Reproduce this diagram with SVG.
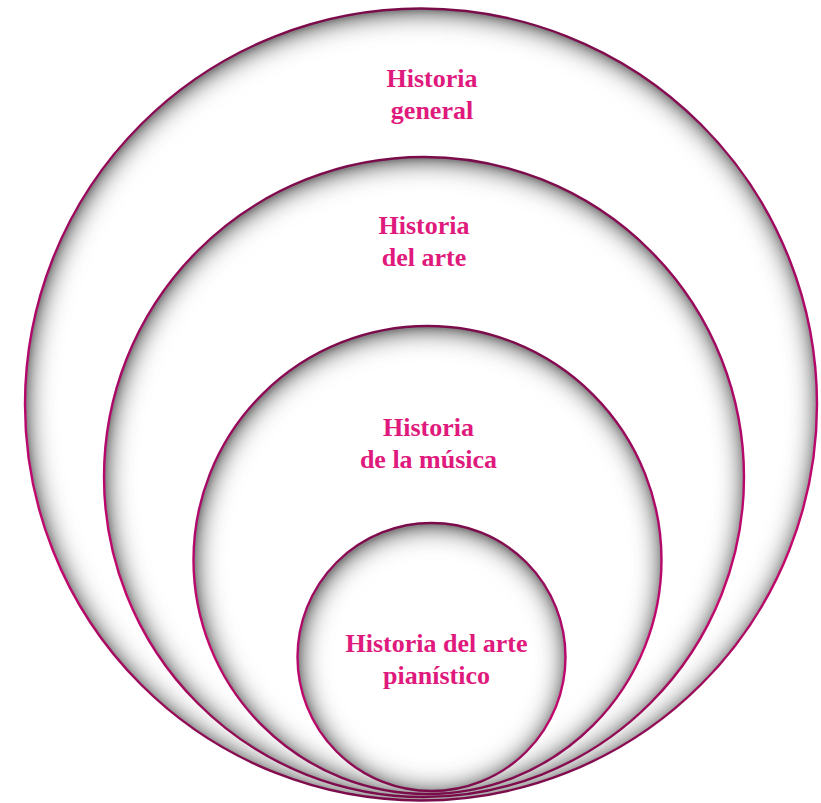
<svg xmlns="http://www.w3.org/2000/svg" width="821" height="803" viewBox="0 0 821 803">
  <defs>
    <linearGradient id="stroke" x1="0" y1="0" x2="0" y2="1">
      <stop offset="0" stop-color="#7a0c4a"/>
      <stop offset="0.4" stop-color="#b0086a"/>
      <stop offset="0.7" stop-color="#c4086e"/>
      <stop offset="1" stop-color="#7a0c4a"/>
    </linearGradient>
    <filter id="inner" x="-10%" y="-10%" width="120%" height="120%">
      <feComponentTransfer in="SourceAlpha" result="inv">
        <feFuncA type="table" tableValues="1 0"/>
      </feComponentTransfer>
      <feGaussianBlur in="inv" stdDeviation="14" result="blur"/>
      <feOffset in="blur" dx="1" dy="2" result="off"/>
      <feComponentTransfer in="off" result="boost">
        <feFuncA type="linear" slope="2" intercept="0"/>
      </feComponentTransfer>
      <feFlood flood-color="#404040" flood-opacity="0.8"/>
      <feComposite operator="in" in2="boost"/>
      <feComposite operator="in" in2="SourceAlpha" result="shadow"/>
      <feMerge>
        <feMergeNode in="SourceGraphic"/>
        <feMergeNode in="shadow"/>
      </feMerge>
    </filter>
  </defs>
  <style>
    .disc { fill: #ffffff; filter: url(#inner); }
    .ring { fill: none; stroke: url(#stroke); stroke-width: 2.4; }
    .lbl { font-family: "Liberation Serif", "Times New Roman", serif; font-weight: bold; font-size: 26px; fill: #e0197d; text-anchor: middle; }
  </style>
  <rect width="821" height="803" fill="#ffffff"/>
  <g id="historia-general">
    <circle class="disc" cx="421" cy="404.5" r="396"/>
    <circle class="ring" cx="421" cy="404.5" r="396"/>
    <text class="lbl" x="432" y="87">Historia</text>
    <text class="lbl" x="432" y="119">general</text>
  </g>
  <g id="historia-del-arte">
    <circle class="disc" cx="424" cy="477" r="320"/>
    <circle class="ring" cx="424" cy="477" r="320"/>
    <text class="lbl" x="424" y="234">Historia</text>
    <text class="lbl" x="424" y="266">del arte</text>
  </g>
  <g id="historia-de-la-musica">
    <circle class="disc" cx="427.5" cy="560" r="234"/>
    <circle class="ring" cx="427.5" cy="560" r="234"/>
    <text class="lbl" x="428.5" y="436">Historia</text>
    <text class="lbl" x="428.5" y="468">de la música</text>
  </g>
  <g id="historia-arte-pianistico">
    <circle class="disc" cx="431.5" cy="657" r="134"/>
    <circle class="ring" cx="431.5" cy="657" r="134"/>
    <text class="lbl" x="436.5" y="652">Historia del arte</text>
    <text class="lbl" x="436.5" y="684">pianístico</text>
  </g>
  <g id="connectors"/>
</svg>
